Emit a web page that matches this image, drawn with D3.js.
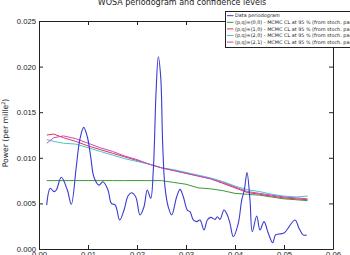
<!DOCTYPE html>
<html>
<head>
<meta charset="utf-8">
<script src="https://cdn.jsdelivr.net/npm/d3@7"></script>
<style>
  body { margin: 0; background: #fff; }
  svg { display: block; font-family: "DejaVu Sans", sans-serif; }
</style>
</head>
<body>
<div id="chart"></div>
<script>
// periodogram (blue)
let perFreq = [0.00157, 0.0023, 0.00306, 0.00353, 0.00455, 0.00578, 0.00659, 0.00761, 0.00831, 0.00912,
	0.00986, 0.01055, 0.01122, 0.01224, 0.01306, 0.01408, 0.01476, 0.01557, 0.01647, 0.01735,
	0.01816, 0.01884, 0.01973, 0.02061, 0.02143, 0.0221, 0.0228, 0.02333, 0.02388, 0.02435,
	0.02484, 0.02524, 0.02571, 0.02639, 0.02708, 0.0281, 0.02878, 0.02945, 0.03027, 0.03082,
	0.03149, 0.03218, 0.03286, 0.03367, 0.03435, 0.03504, 0.03592, 0.03639, 0.03694, 0.03776,
	0.03843, 0.03898, 0.03965, 0.04067, 0.04137, 0.0419, 0.04245, 0.04306, 0.04353, 0.04443,
	0.0451, 0.04592, 0.04680, 0.0477, 0.04827, 0.04898, 0.05, 0.05224, 0.05306, 0.05388, 0.05463];
let perVal = [0.00482, 0.00665, 0.00629, 0.00647, 0.00786, 0.00647, 0.0049, 0.00902, 0.01195, 0.01334,
	0.01231, 0.01012, 0.00786, 0.0070, 0.00738, 0.00647, 0.00501, 0.00482, 0.00318, 0.00427,
	0.00581, 0.00617, 0.00573, 0.00373, 0.00464, 0.00647, 0.00556, 0.00866, 0.01707, 0.02108,
	0.01886, 0.01155, 0.00679, 0.0046, 0.00373, 0.00573, 0.00654, 0.00573, 0.00427, 0.00409,
	0.00318, 0.0030, 0.00318, 0.00208, 0.00318, 0.00347, 0.00325, 0.00354, 0.00325, 0.00428,
	0.00373, 0.00282, 0.00135, 0.00282, 0.00537, 0.00647, 0.00837, 0.00537, 0.0019, 0.00362,
	0.00208, 0.0030, 0.00172, 0.00069, 0.00155, 0.00164, 0.00175, 0.00318, 0.00228, 0.00155, 0.00152];

// confidence levels
let clFreq = [0.0016, 0.003, 0.005, 0.0075, 0.010, 0.0125, 0.015, 0.0175, 0.020, 0.0225, 0.025, 0.0275,
	0.030, 0.0325, 0.035, 0.0375, 0.040, 0.0425, 0.045, 0.0475, 0.050, 0.0525, 0.0548];
let cl00 = [0.0075, 0.0075, 0.0075, 0.0075, 0.0075, 0.0075, 0.0075, 0.0075, 0.0075, 0.0075, 0.0075, 0.0073,
	0.0071, 0.0067, 0.0066, 0.0064, 0.0061, 0.0060, 0.0059, 0.0057, 0.0055, 0.0054, 0.0053];
let cl10 = [0.0125, 0.0126, 0.0122, 0.0118, 0.0113, 0.0109, 0.0105, 0.0101, 0.0097, 0.0093, 0.0089, 0.0086,
	0.0083, 0.0080, 0.0077, 0.0072, 0.0067, 0.0062, 0.0060, 0.0058, 0.0056, 0.0055, 0.0054];
let cl20 = [0.0120, 0.0118, 0.0116, 0.0115, 0.0111, 0.0107, 0.0103, 0.0099, 0.0096, 0.0093, 0.0089, 0.0087,
	0.0084, 0.0081, 0.0078, 0.0074, 0.0069, 0.0065, 0.0063, 0.0060, 0.0058, 0.0057, 0.0058];
let cl21 = [0.0116, 0.0122, 0.0124, 0.0121, 0.0116, 0.0111, 0.0107, 0.0102, 0.0098, 0.0093, 0.0089, 0.0086,
	0.0083, 0.0080, 0.0077, 0.0073, 0.0068, 0.0063, 0.0061, 0.0059, 0.0057, 0.0056, 0.0055];

let xTicks = [0, 0.01, 0.02, 0.03, 0.04, 0.05, 0.06];
let yTicks = [0, 0.005, 0.010, 0.015, 0.020, 0.025];
let legendLabels = ["Data periodogram",
	"(p,q)=(0,0) - MCMC CL at 95 % (from stoch. param. estimates)",
	"(p,q)=(1,0) - MCMC CL at 95 % (from stoch. param. estimates)",
	"(p,q)=(2,0) - MCMC CL at 95 % (from stoch. param. estimates)",
	"(p,q)=(2,1) - MCMC CL at 95 % (from stoch. param. estimates)"];
let colors = ["#3b3bd0", "#3a9a3a", "#e2354a", "#45c8c8", "#c846c8"];

let width = 350, height = 255;
let mLeft = 39, mRight = 333, mTop = 21, mBottom = 249;

let svg = d3.select("#chart").append("svg").attr("width", width).attr("height", height);

let x = d3.scaleLinear().domain([0, 0.06]).range([mLeft, mRight]);
let y = d3.scaleLinear().domain([0, 0.025]).range([mBottom, mTop]);

function styleAxis(g) {
	g.select(".domain").attr("stroke", "#222");
	g.selectAll(".tick line").attr("stroke", "#222");
	g.selectAll(".tick text").attr("fill", "#222").attr("font-size", "7.7px");
}

svg.append("g").attr("transform", "translate(0," + mBottom + ")")
	.call(d3.axisBottom(x).tickValues(xTicks).tickFormat(d3.format(".2f")).tickSize(-4).tickSizeOuter(0).tickPadding(2.5))
	.call(styleAxis);
svg.append("g").attr("transform", "translate(0," + mTop + ")")
	.call(d3.axisTop(x).tickValues(xTicks).tickFormat("").tickSize(-4).tickSizeOuter(0))
	.call(styleAxis);
svg.append("g").attr("transform", "translate(" + mLeft + ",0)")
	.call(d3.axisLeft(y).tickValues(yTicks).tickFormat(d3.format(".3f")).tickSize(-4).tickSizeOuter(0).tickPadding(3))
	.call(styleAxis);
svg.append("g").attr("transform", "translate(" + mRight + ",0)")
	.call(d3.axisRight(y).tickValues(yTicks).tickFormat("").tickSize(-4).tickSizeOuter(0))
	.call(styleAxis);

let plot = svg.append("g");
let clLine = d3.line().x(d => x(d[0])).y(d => y(d[1]));
[cl00, cl10, cl20, cl21].forEach(function(vals, i) {
	plot.append("path")
		.datum(clFreq.map((f, j) => [f, vals[j]]))
		.attr("d", clLine)
		.attr("fill", "none")
		.attr("stroke", colors[i + 1])
		.attr("stroke-width", 1);
});

let perLine = d3.line().x(d => x(d[0])).y(d => y(d[1])).curve(d3.curveCatmullRom.alpha(0.5));
plot.append("path")
	.datum(perFreq.map((f, j) => [f, perVal[j]]))
	.attr("d", perLine)
	.attr("fill", "none")
	.attr("stroke", colors[0])
	.attr("stroke-width", 1.1);

// title
svg.append("text")
	.attr("x", (mLeft + mRight) / 2 - 4).attr("y", 5)
	.attr("text-anchor", "middle")
	.attr("font-size", "8px").attr("fill", "#222")
	.text("WOSA periodogram and confidence levels");

// y label
let yl = svg.append("text")
	.attr("transform", "translate(8," + 133 + ") rotate(-90)")
	.attr("text-anchor", "middle")
	.attr("font-size", "7.7px").attr("fill", "#222");
yl.append("tspan").text("Power (per mille");
yl.append("tspan").attr("font-size", "5px").attr("dy", "-3").text("2");
yl.append("tspan").attr("dy", "3").text(")");

// legend
let legend = svg.append("g");
legend.append("rect")
	.attr("x", 225.5).attr("y", 11.5).attr("width", 200).attr("height", 36)
	.attr("fill", "#fff").attr("stroke", "#222").attr("stroke-width", 1);
legendLabels.forEach(function(label, i) {
	let ly = 15.7 + i * 6.6;
	legend.append("line")
		.attr("x1", 227).attr("x2", 233.5).attr("y1", ly).attr("y2", ly)
		.attr("stroke", colors[i]).attr("stroke-width", 1);
	legend.append("text")
		.attr("x", 235).attr("y", ly + 1.7)
		.attr("font-size", "4.9px").attr("fill", "#222")
		.text(label);
});
</script>
</body>
</html>
